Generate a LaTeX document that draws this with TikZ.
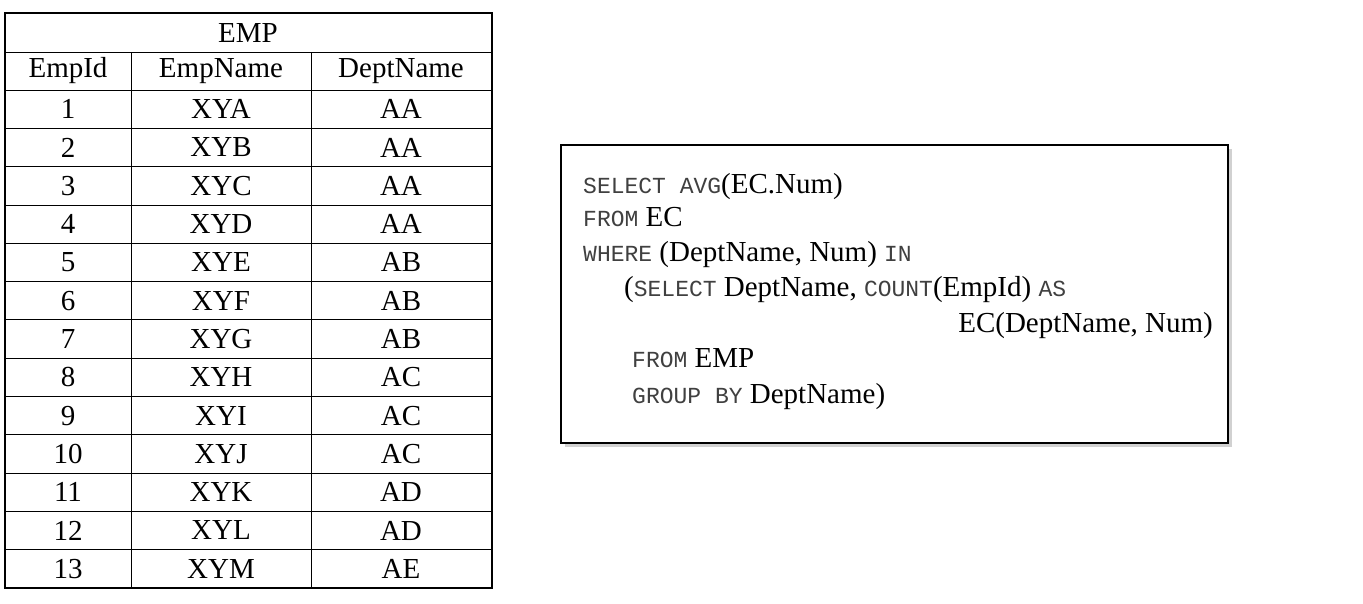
\documentclass[tikz,border=0pt]{standalone}
\usepackage{fontspec}
\setmainfont{Liberation Serif}
\setmonofont{Liberation Mono}
\usetikzlibrary{positioning}

\newcommand{\kwd}[1]{{\fontsize{23}{23}\ttfamily\color{black!75}#1}}

\begin{document}
\begin{tikzpicture}[
            x = 1pt, y = -1pt, % pixel grid
            cell/.style = {font = \fontsize{29}{29}\selectfont, anchor = center},
            sql/.style = {anchor = base west, inner sep = 0pt,
                          font = \fontsize{29}{29}\selectfont}
        ]

        \useasboundingbox (0,0) rectangle (1363,603);

        % table EMP
        \draw[line width = 1.2pt] (5,13) rectangle (492,588);
        \draw[thick] (5,52) -- (492,52);
        \foreach \y in {90,128.3,...,560} {
            \draw[thick] (5,\y) -- (492,\y);
        }
        \draw[thick] (131,52) -- (131,588);
        \draw[thick] (311,52) -- (311,588);

        \node[cell] (title) at (248,33) {EMP};
        \node[cell] (hid) at (68,71) {EmpId};
        \node[cell] (hname) at (221,71) {EmpName};
        \node[cell] (hdept) at (401,71) {DeptName};

        \foreach \i/\n/\d in {1/A/AA, 2/B/AA, 3/C/AA, 4/D/AA, 5/E/AB, 6/F/AB,
                              7/G/AB, 8/H/AC, 9/I/AC, 10/J/AC, 11/K/AD,
                              12/L/AD, 13/M/AE} {
            \pgfmathsetmacro{\yc}{90 + 38.3*(\i - 0.5)}
            \node[cell] (id\i) at (68,\yc) {\i};
            \node[cell] (name\i) at (221,\yc) {XY\n};
            \node[cell] (dept\i) at (401,\yc) {\d};
        }

        % query box
        \fill[black!18] (565,149) rectangle (1232,447);
        \draw[line width = 1.3pt, fill = white] (561,145) rectangle (1228,443);

        \node[sql] (q1) at (583,193) {\kwd{SELECT AVG}(EC.Num)};
        \node[sql] (q2) at (583,226) {\kwd{FROM} EC};
        \node[sql] (q3) at (583,261) {\kwd{WHERE} (DeptName, Num) \kwd{IN}};
        \node[sql] (q4) at (624,296) {(\kwd{SELECT} DeptName, \kwd{COUNT}(EmpId) \kwd{AS}};
        \node[sql, anchor = base east] (q5) at (1213,332) {EC(DeptName, Num)};
        \node[sql] (q6) at (632,367) {\kwd{FROM} EMP};
        \node[sql] (q7) at (632,403) {\kwd{GROUP BY} DeptName)};

  \end{tikzpicture}
\end{document}
